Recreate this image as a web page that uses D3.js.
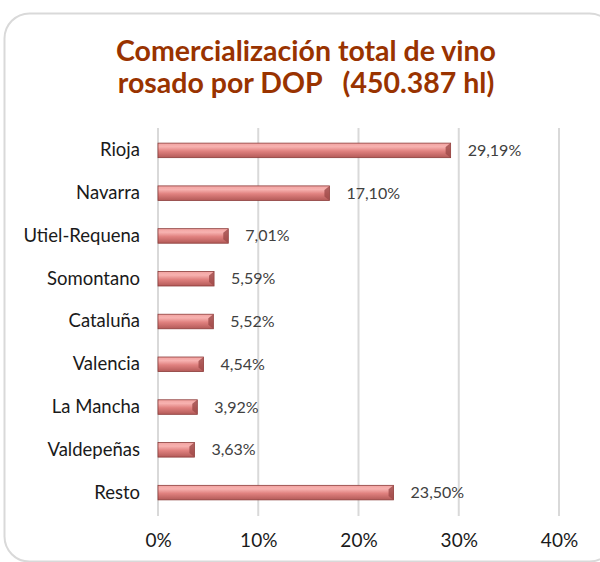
<!DOCTYPE html>
<html>
<head>
<meta charset="utf-8">
<script src="https://cdn.jsdelivr.net/npm/d3@7"></script>
<style>
  body { margin: 0; background: #fff; }
</style>
</head>
<body>
<script>
const categories = ["Rioja", "Navarra", "Utiel-Requena", "Somontano", "Cataluña", "Valencia", "La Mancha", "Valdepeñas", "Resto"];
const values = [29.19, 17.10, 7.01, 5.59, 5.52, 4.54, 3.92, 3.63, 23.50];
const valueLabels = ["29,19%", "17,10%", "7,01%", "5,59%", "5,52%", "4,54%", "3,92%", "3,63%", "23,50%"];
const ticks = [0, 10, 20, 30, 40];
const titleLines = ["Comercialización total de vino", "rosado por DOP   (450.387 hl)"];

const width = 600, height = 562;
const svg = d3.select("body").append("svg")
    .attr("width", width)
    .attr("height", height);

// gradient for the bevelled bars
const defs = svg.append("defs");
const grad = defs.append("linearGradient").attr("id", "barGrad")
    .attr("x1", 0).attr("y1", 0).attr("x2", 0).attr("y2", 1);
grad.append("stop").attr("offset", "0%").attr("stop-color", "#f2a3a1");
grad.append("stop").attr("offset", "25%").attr("stop-color", "#f7b2b0");
grad.append("stop").attr("offset", "55%").attr("stop-color", "#e0817f");
grad.append("stop").attr("offset", "100%").attr("stop-color", "#b35a58");

// rounded frame (runs past the right edge of the picture)
svg.append("rect")
    .attr("x", 4.5).attr("y", 13.5)
    .attr("width", 610).attr("height", 548)
    .attr("rx", 25)
    .attr("fill", "#fff")
    .attr("stroke", "#d9d9d9")
    .attr("stroke-width", 2);

// title
svg.append("g").selectAll("text")
    .data(titleLines)
    .join("text")
    .attr("x", 306)
    .attr("y", (d, i) => 61 + i * 32)
    .attr("text-anchor", "middle")
    .attr("font-family", "Lato, sans-serif")
    .attr("font-weight", "bold")
    .attr("font-size", 28.5)
    .attr("fill", "#993300")
    .style("white-space", "pre")
    .text(d => d);

const x = d3.scaleLinear().domain([0, 40]).range([158, 559]);
const y = d3.scaleBand().domain(categories).range([129, 514]).paddingInner(0.66).paddingOuter(0.33);

// gridlines
svg.append("g").selectAll("line")
    .data(ticks)
    .join("line")
    .attr("x1", d => x(d)).attr("x2", d => x(d))
    .attr("y1", 128).attr("y2", 516)
    .attr("stroke", "#d9d9d9")
    .attr("stroke-width", 2);

// x axis labels
const ax = svg.append("g")
    .attr("transform", "translate(0,516)")
    .call(d3.axisBottom(x).tickValues(ticks).tickSize(0).tickPadding(18).tickFormat(d => d + "%"));
ax.select(".domain").remove();
ax.selectAll("text")
    .attr("font-family", "Lato, sans-serif")
    .attr("font-size", 19)
    .attr("fill", "#1a1a1a");

// y axis labels
const ay = svg.append("g")
    .attr("transform", "translate(158,0)")
    .call(d3.axisLeft(y).tickSize(0).tickPadding(18));
ay.select(".domain").remove();
ay.selectAll("text")
    .attr("font-family", "Lato, sans-serif")
    .attr("font-size", 18.5)
    .attr("fill", "#1a1a1a");

// bars
const bars = svg.append("g").selectAll("g")
    .data(categories)
    .join("g");

bars.append("rect")
    .attr("x", x(0))
    .attr("y", d => y(d))
    .attr("width", (d, i) => x(values[i]) - x(0))
    .attr("height", y.bandwidth())
    .attr("fill", "url(#barGrad)")
    .attr("stroke", "#8c3c3a")
    .attr("stroke-width", 0.8);

// bevel on the right end
bars.append("path")
    .attr("d", (d, i) => {
        const x1 = x(values[i]), y0 = y(d), h = y.bandwidth();
        return `M${x1},${y0} L${x1 - 5},${y0 + 4} L${x1 - 5},${y0 + h - 4} L${x1},${y0 + h} Z`;
    })
    .attr("fill", "#9e4a48")
    .attr("opacity", 0.8);

// value labels
bars.append("text")
    .attr("x", (d, i) => x(values[i]) + 17)
    .attr("y", d => y(d) + y.bandwidth() / 2 + 5.5)
    .attr("font-family", "Lato, sans-serif")
    .attr("font-size", 16)
    .attr("fill", "#404040")
    .text((d, i) => valueLabels[i]);
</script>
</body>
</html>
